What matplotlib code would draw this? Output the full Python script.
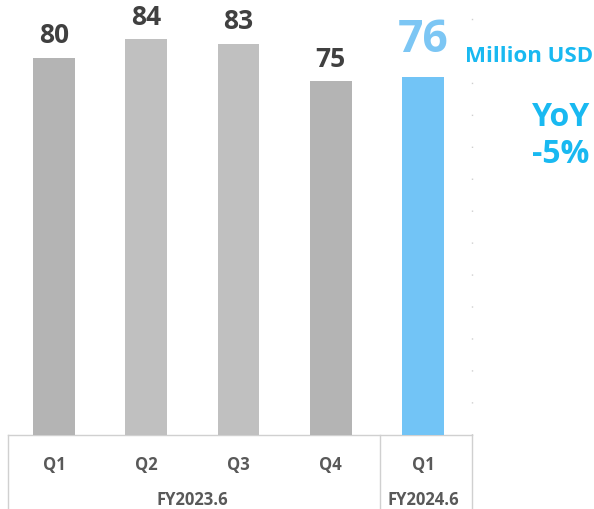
import matplotlib
matplotlib.use("Agg")
import matplotlib.pyplot as plt

quarters = ["Q1", "Q2", "Q3", "Q4", "Q1"]
values = [80, 84, 83, 75, 76]
years = ["FY2023.6", "FY2024.6"]
bar_colors = ["#b4b4b4", "#c0c0c0", "#c0c0c0", "#b4b4b4", "#72c4f6"]
unit_label = "Million USD"
yoy_label = "YoY\n-5%"

fig = plt.figure(figsize=(5.94, 5.10), dpi=100)
ax = fig.add_axes([0, 74 / 510, 1, 436 / 510])
step = 92.25
x0 = -54 / step
ax.set_xlim(x0, x0 + 594 / step)
ax.set_ylim(0, 92.5)
ax.axis("off")

x = list(range(len(values)))
ax.bar(x, values, width=0.455, color=bar_colors, zorder=2)

lab_font = ["Open Sans", "DejaVu Sans"]
for i, v in enumerate(values):
    if i < 4:
        ax.text(i, v + 2.0, str(v), ha="center", va="bottom", fontsize=19,
                fontweight="bold", color="#404040", family=lab_font)
    else:
        ax.text(i, v + 3.2, str(v), ha="center", va="bottom", fontsize=32,
                fontweight="bold", color="#7cc6f4", family=lab_font)

# table lines
xl = (8 - 54) / step
xsep = (380 - 54) / step
xr = (472 - 54) / step
ybot = -16.5
lc = "#d0d0d0"
ax.plot([xl, xr], [0, 0], color=lc, lw=1.0, clip_on=False, zorder=1)
for xv in (xl, xsep, xr):
    ax.plot([xv, xv], [0, ybot], color=lc, lw=1.0, clip_on=False)
ax.plot([xr, xr], [0, 92.5], color="#cfcfcf", lw=1.0,
        linestyle=(0, (1, 22)), clip_on=False)

for i, q in enumerate(quarters):
    ax.text(i, -6.1, q, ha="center", va="center", fontsize=12,
            fontweight="bold", color="#595959", family=lab_font)
ax.text(1.5, -13.6, years[0], ha="center", va="center", fontsize=12,
        fontweight="bold", color="#595959", family=lab_font)
ax.text(4, -13.6, years[1], ha="center", va="center", fontsize=12,
        fontweight="bold", color="#595959", family=lab_font)

fig.text(593 / 594, 1 - 57 / 510, unit_label, ha="right", va="center",
         fontsize=16, fontweight="bold", color="#19b9f1",
         family=["Open Sans", "DejaVu Sans"])
fig.text(561 / 594, 1 - 136 / 510, yoy_label, ha="center", va="center",
         fontsize=23, fontweight="bold", color="#19b9f1", linespacing=1.15,
         family=["Open Sans", "DejaVu Sans"])

fig.savefig("out.png", dpi=100)
